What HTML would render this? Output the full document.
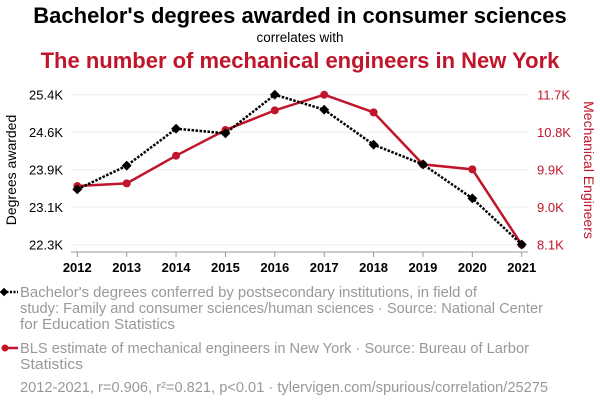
<!DOCTYPE html>
<html><head><meta charset="utf-8"><style>
body{margin:0;width:600px;height:408px;background:#fff;font-family:"Liberation Sans",sans-serif;overflow:hidden}
svg{display:block}
</style></head><body>
<svg id="c" width="600" height="408">
<text x="300" y="23" text-anchor="middle" font-size="22" font-weight="bold" fill="#000">Bachelor's degrees awarded in consumer sciences</text>
<text x="300" y="42" text-anchor="middle" font-size="13.5" fill="#000">correlates with</text>
<text x="300" y="68" text-anchor="middle" font-size="22" font-weight="bold" fill="#c0152a">The number of mechanical engineers in New York</text>
<g id="grid"></g><g id="axes"></g><g id="marks"></g>
<text transform="translate(16,170) rotate(-90)" text-anchor="middle" font-size="14" fill="#000">Degrees awarded</text>
<text transform="translate(584,170) rotate(90)" text-anchor="middle" font-size="14" fill="#c0152a">Mechanical Engineers</text>
<g>
<line x1="3" y1="292" x2="18" y2="292" stroke="#000" stroke-width="2.5" stroke-dasharray="2,1.5"/>
<rect x="1" y="289" width="6" height="6" transform="rotate(45 4 292)" fill="#000"/>
<text font-size="14.3" fill="#999"><tspan x="20" y="297" textLength="457" lengthAdjust="spacingAndGlyphs">Bachelor's degrees conferred by postsecondary institutions, in field of</tspan><tspan x="20" y="313" textLength="523" lengthAdjust="spacingAndGlyphs">study: Family and consumer sciences/human sciences · Source: National Center</tspan><tspan x="20" y="329" textLength="155" lengthAdjust="spacingAndGlyphs">for Education Statistics</tspan></text></g>
<g>
<line x1="3" y1="348" x2="18" y2="348" stroke="#c0152a" stroke-width="2.5"/>
<circle cx="5" cy="348" r="3.5" fill="#c0152a"/>
<text font-size="14.3" fill="#999"><tspan x="20" y="353" textLength="509" lengthAdjust="spacingAndGlyphs">BLS estimate of mechanical engineers in New York · Source: Bureau of Larbor</tspan><tspan x="20" y="369" textLength="63" lengthAdjust="spacingAndGlyphs">Statistics</tspan></text></g>
<text x="20" y="392" font-size="14.3" fill="#999" textLength="528" lengthAdjust="spacingAndGlyphs">2012-2021, r=0.906, r²=0.821, p&lt;0.01 · tylervigen.com/spurious/correlation/25275</text>
</svg>
<script>
const years=[2012,2013,2014,2015,2016,2017,2018,2019,2020,2021];
const degrees=[23469,23958,24722,24626,25425,25115,24392,23985,23283,22330];
const engineers=[9508,9572,10236,10852,11324,11700,11276,10028,9908,8100];
const leftTicks=[22325,23100,23875,24650,25425];
const leftLabels=["22.3K","23.1K","23.9K","24.6K","25.4K"];
const rightTicks=[8100,9000,9900,10800,11700];
const rightLabels=["8.1K","9.0K","9.9K","10.8K","11.7K"];
const NS="http://www.w3.org/2000/svg";
const x=i=>77.3+i*49.38;
const yL=v=>244.7-(v-22325)/3100*150;
const yR=v=>244.7-(v-8100)/3600*150;
function mk(t,a,p){const e=document.createElementNS(NS,t);for(const k in a)e.setAttribute(k,a[k]);p.appendChild(e);return e;}
const grid=document.getElementById('grid'),axes=document.getElementById('axes'),marks=document.getElementById('marks');
leftTicks.forEach((v,i)=>{
 const g=mk('line',{x1:71,x2:528,y1:yL(v),y2:yL(v),stroke:'#eee','stroke-width':1},grid);
 
 
 const t=mk('text',{x:63,y:yL(v)+5,'text-anchor':'end','font-size':13,fill:'#000'},axes);t.textContent=leftLabels[i];
 
 
});
rightTicks.forEach((v,i)=>{
 const t=mk('text',{x:537,y:yR(v)+5,'font-size':13,fill:'#c0152a'},axes);t.textContent=rightLabels[i];
 
 
});
const ax=mk('line',{x1:71,x2:528,y1:252,y2:252,stroke:'#999','stroke-width':1},axes);


years.forEach((yr,i)=>{
 mk('line',{x1:x(i),x2:x(i),y1:252,y2:257,stroke:'#999'},axes);
 const t=mk('text',{x:x(i),y:272,'text-anchor':'middle','font-size':13,'font-weight':'bold',fill:'#000'},axes);t.textContent=yr;
 
 
});
const rl=mk('polyline',{points:engineers.map((v,i)=>x(i)+','+yR(v)).join(' '),fill:'none',stroke:'#c0152a','stroke-width':2.5},marks);


engineers.forEach((v,i)=>{
 const c=mk('circle',{cx:x(i),cy:yR(v),r:4,fill:'#c0152a'},marks);
 
 
});
const bl=mk('polyline',{points:degrees.map((v,i)=>x(i)+','+yL(v)).join(' '),fill:'none',stroke:'#000','stroke-width':2.5,'stroke-dasharray':'2.5,1.5'},marks);


degrees.forEach((v,i)=>{
 const r=mk('rect',{x:x(i)-3.5,y:yL(v)-3.5,width:7,height:7,fill:'#000',transform:`rotate(45 ${x(i)} ${yL(v)})`},marks);
 
 
});
</script>
</body></html>
